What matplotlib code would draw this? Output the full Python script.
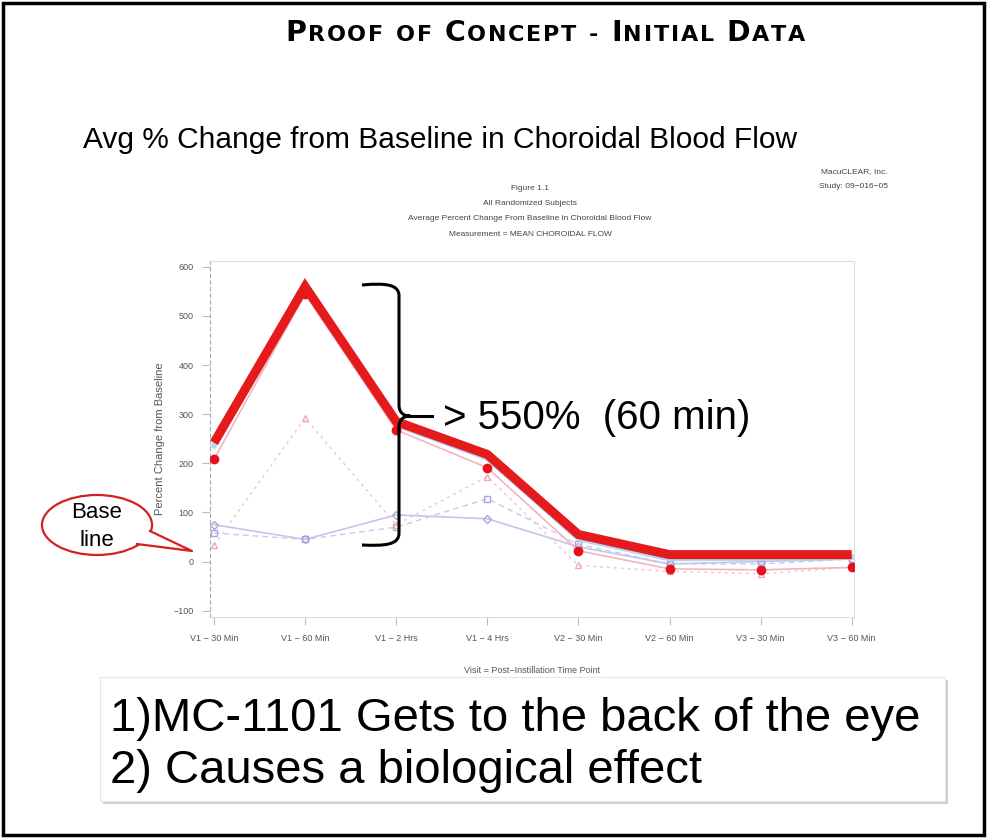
import matplotlib
matplotlib.use("Agg")
import matplotlib.pyplot as plt
from matplotlib.patches import Rectangle, Ellipse, Polygon, PathPatch
from matplotlib.path import Path

W, H = 988, 839

# --- data ---
visits = ["V1 − 30 Min", "V1 − 60 Min", "V1 − 2 Hrs", "V1 − 4 Hrs",
          "V2 − 30 Min", "V2 − 60 Min", "V3 − 30 Min", "V3 − 60 Min"]
highlight = [242, 560, 285, 218, 55, 14, 14, 14]
red_dots = [208, 545, 268, 191, 22, -15, -17, -12]
pink_tri = [33, 292, 75, 173, -8, -20, -25, -12]
lav_square = [58, 45, 70, 128, 35, -5, -5, 5]
lav_diamond = [75, 45, 95, 87, 30, -5, 0, 5]
light_blue = [236, 552, 279, 211, 47, 6, 7, 9]
yticks = [-100, 0, 100, 200, 300, 400, 500, 600]

plt.rcParams['font.family'] = ['Liberation Sans', 'DejaVu Sans']

fig = plt.figure(figsize=(W / 100, H / 100), dpi=100)
fig.patch.set_facecolor('white')

# --- chart axes (pixel box 210..854, 261..617) ---
ax = fig.add_axes([210 / W, 1 - 617 / H, (854 - 210) / W, (617 - 261) / H])
x = list(range(len(visits)))

ax.plot(x, lav_diamond, color='#c4c4ec', lw=1.2, marker='D', ms=4,
        mfc='none', mec='#a8a8dc', zorder=2)
ax.plot(x, lav_square, color='#c8c8ee', lw=1.0, ls=(0, (4, 3)), marker='s', ms=4,
        mfc='none', mec='#a8a8dc', zorder=2)
ax.plot(x, pink_tri, color='#f6c0cc', lw=1.0, ls=(0, (2, 3)), marker='^', ms=5,
        mfc='none', mec='#f0a8b8', zorder=2)
ax.plot(x, light_blue, color='#b8d4f4', lw=4, zorder=3, solid_joinstyle='miter')
ax.plot(x, red_dots, color='#f4b4bc', lw=1.2, marker='o', ms=6,
        mfc='#e8101c', mec='#e8101c', zorder=4)
ax.plot(x, highlight, color='#e41a1c', lw=6.5, zorder=5,
        solid_joinstyle='miter', solid_capstyle='butt')

ax.set_xlim(-0.044, 7.025)
ax.set_ylim(-113, 612)
ax.set_xticks(x)
ax.set_xticklabels(visits)
ax.set_yticks(yticks)
ax.tick_params(axis='both', labelsize=6.5, colors='#bbbbbb', labelcolor='#555555',
               length=6, width=0.8, pad=6)
for s in ['top', 'right', 'bottom']:
    ax.spines[s].set_color('#dddddd')
    ax.spines[s].set_linewidth(0.8)
ax.spines['left'].set_color('#aaaaaa')
ax.spines['left'].set_linestyle((0, (3, 3)))
ax.set_ylabel("Percent Change from Baseline", fontsize=8, color='#555555', labelpad=6)
ax.set_xlabel("Visit = Post−Instillation Time Point", fontsize=6.5, color='#555555',
              labelpad=17)

# --- overlay axes in pixel coordinates ---
ov = fig.add_axes([0, 0, 1, 1], zorder=10)
ov.set_xlim(0, W)
ov.set_ylim(H, 0)
ov.axis('off')
ov.patch.set_alpha(0)

# outer border
ov.add_patch(Rectangle((3, 3), W - 7, H - 7, fill=False, ec='black', lw=2.5))

# small caps title, letters spread to fill 285..805
fig.canvas.draw()
renderer = fig.canvas.get_renderer()
words = [[("P", 20.5), ("ROOF", 16)], [("OF", 16)], [("C", 20.5), ("ONCEPT", 16)],
         [("-", 16)], [("I", 20.5), ("NITIAL", 16)], [("D", 20.5), ("ATA", 16)]]
letters = []
for wi, word in enumerate(words):
    for part, size in word:
        for ch in part:
            letters.append((ch, size, False))
    if wi < len(words) - 1:
        letters.append((" ", 16, True))

title_font = dict(fontweight='bold', family='DejaVu Sans', color='black',
                  ha='left', va='baseline')
objs = []
total = 0
for ch, size, is_space in letters:
    if is_space:
        objs.append(None)
        total += 9
        continue
    t = ov.text(0, 41, ch, fontsize=size, **title_font)
    w = t.get_window_extent(renderer).width
    objs.append((t, w))
    total += w
gap = (805 - 285 - total) / (len(letters) - 1)
cx = 285
for o in objs:
    if o is None:
        cx += 9 + gap
        continue
    t, w = o
    t.set_x(cx)
    cx += w + gap

ov.text(83, 140, "Avg % Change from Baseline in Choroidal Blood Flow", fontsize=21.5,
        ha='left', va='center', color='black')

# SAS headers
ov.text(888, 172, "MacuCLEAR, Inc.", fontsize=6, ha='right', va='center', color='#444444')
ov.text(888, 187, "Study: 09−016−05", fontsize=6, ha='right', va='center', color='#444444')
header = ["Figure 1.1", "All Randomized Subjects",
          "Average Percent Change From Baseline in Choroidal Blood Flow",
          "Measurement = MEAN CHOROIDAL FLOW"]
for i, line in enumerate(header):
    ov.text(530, 188 + i * 15.5, line, fontsize=6, ha='center', va='center',
            color='#444444')

# bracket
codes = [Path.MOVETO, Path.CURVE4, Path.CURVE4, Path.CURVE4,
         Path.LINETO,
         Path.CURVE4, Path.CURVE4, Path.CURVE4,
         Path.CURVE4, Path.CURVE4, Path.CURVE4,
         Path.LINETO,
         Path.CURVE4, Path.CURVE4, Path.CURVE4]
verts = [(362, 285), (385, 283), (399, 284), (399, 296),
         (399, 405),
         (399, 412), (403, 416), (410, 416),
         (403, 416), (399, 420), (399, 428),
         (399, 533),
         (399, 545), (385, 546), (362, 545)]
ov.add_patch(PathPatch(Path(verts, codes), fill=False, ec='black', lw=2.2,
                       capstyle='butt', joinstyle='round'))
ov.plot([410, 432], [416, 416], color='black', lw=2.2)
ov.text(443, 418, "> 550%  (60 min)", fontsize=29, ha='left', va='center', color='black')

# Base line callout
tail = [(150, 531), (192, 551), (137, 544)]
ov.add_patch(Ellipse((97, 525), 110, 60, fc='white', ec='#d42020', lw=1.6))
ov.add_patch(Polygon(tail, closed=True, fc='white', ec='none'))
ov.plot([tail[0][0], tail[1][0], tail[2][0]], [tail[0][1], tail[1][1], tail[2][1]],
        color='#d42020', lw=1.6)
ov.text(97, 513, "Base", fontsize=16, ha='center', va='center')
ov.text(97, 540, "line", fontsize=16, ha='center', va='center')

# bottom text box with shadow
ov.add_patch(Rectangle((103, 680), 845, 124, fc='#cfcfcf', ec='none'))
ov.add_patch(Rectangle((100, 677), 845, 124, fc='white', ec='#e6e6e6', lw=0.8))
ov.text(110, 719, "1)MC-1101 Gets to the back of the eye", fontsize=34,
        ha='left', va='center', color='black')
ov.text(110, 771, "2) Causes a biological effect", fontsize=34,
        ha='left', va='center', color='black')

fig.savefig("out.png", dpi=100, facecolor='white')
